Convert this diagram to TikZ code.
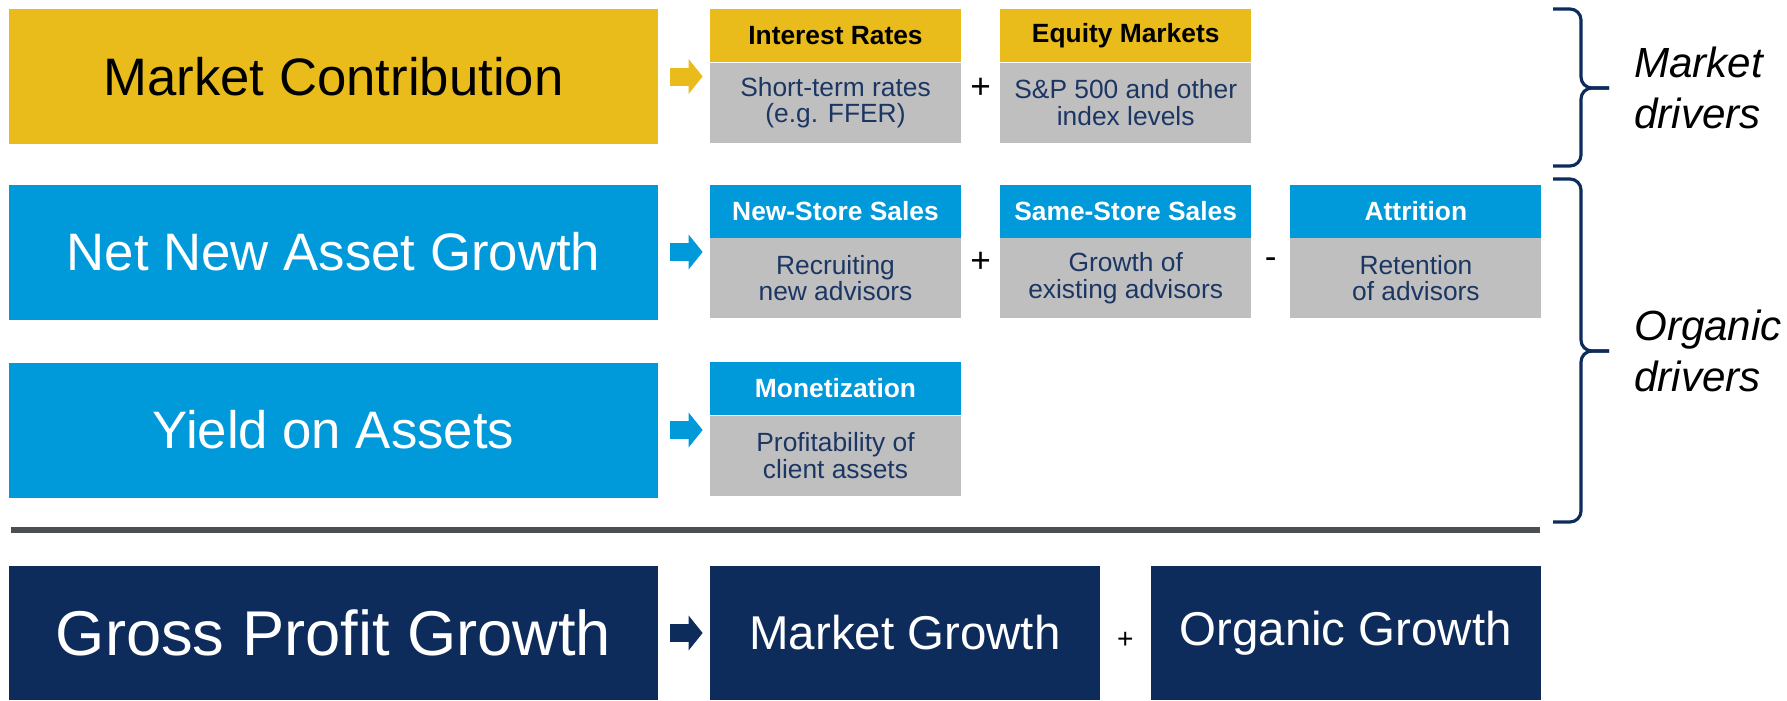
\documentclass[tikz,border=0pt]{standalone}
\usepackage{fontspec}
\setmainfont{Liberation Sans}
\usepackage{tikz}
\usetikzlibrary{positioning}
\usetikzlibrary{calc}
\usetikzlibrary{arrows.meta}
\definecolor{gold}{HTML}{E9BC1C}
\definecolor{sky}{HTML}{0099DA}
\definecolor{navy}{HTML}{0D2C5C}
\definecolor{boxgray}{HTML}{BFBFBF}
\definecolor{inknavy}{HTML}{1C3664}
\definecolor{rulegray}{HTML}{4B4E52}
\tikzset{
    bigbox/.style={fill=#1,minimum width=12.98cm,minimum height=2.7cm,inner sep=0pt,font=\fontsize{30}{36}\selectfont},
    head/.style={fill=#1,minimum width=5.02cm,minimum height=1.06cm,inner sep=0pt,font=\fontsize{15}{16}\bfseries},
    body/.style={fill=boxgray,text=inknavy,minimum width=5.02cm,minimum height=1.6cm,inner sep=0pt,align=center,font=\fontsize{15}{15}\selectfont},
    sumbox/.style={fill=navy,text=white,minimum width=7.8cm,minimum height=2.68cm,inner sep=0pt,font=\fontsize{27}{32}\selectfont},
    blockarrow/.style={draw=#1,line width=0.36cm,-{Triangle[length=0.28cm,width=0.68cm]},shorten <=0.24cm,shorten >=0.14cm},
    op/.style={font=\fontsize{20}{24}\selectfont},
    drvbrace/.style={draw=navy,line width=1.8pt,rounded corners=0.22cm},
    drvtext/.style={anchor=west,align=left,font=\fontsize{24}{29}\itshape}
}
\begin{document}
\begin{tikzpicture}
\useasboundingbox (0,0) rectangle (35.74,-14);
% market row
\node[bigbox=gold] (mc) at (6.67,-1.53) {Market Contribution};
\node[head=gold] (ir) at (16.71,-0.71) {Interest Rates};
\node[body,below=0pt of ir] (irb) {Short-term rates\\(e.g. FFER)};
\node[head=gold,right=0.77cm of ir] (em) {Equity Markets};
\node[body,below=0pt of em] (emb) {S\&P 500 and other\\index levels};
% organic rows
\node[bigbox=sky,text=white] (nnag) at (6.67,-5.04) {Net New Asset Growth};
\node[head=sky,text=white] (nss) at (16.71,-4.22) {New-Store Sales};
\node[body,below=0pt of nss] (nssb) {Recruiting\\new advisors};
\node[head=sky,text=white,right=0.77cm of nss] (sss) {Same-Store Sales};
\node[body,below=0pt of sss] (sssb) {Growth of\\existing advisors};
\node[head=sky,text=white,right=0.77cm of sss] (att) {Attrition};
\node[body,below=0pt of att] (attb) {Retention\\of advisors};
\node[bigbox=sky,text=white] (yoa) at (6.67,-8.60) {Yield on Assets};
\node[head=sky,text=white] (mon) at (16.71,-7.77) {Monetization};
\node[body,below=0pt of mon] (monb) {Profitability of\\client assets};
% rule
\coordinate (rl) at (0.22,-10.6); \coordinate (rr) at (30.8,-10.6);
\draw[rulegray,line width=3.4pt] (rl) -- (rr);
% total row
\node[bigbox=navy,text=white,minimum height=2.68cm,font=\fontsize{36}{43}\selectfont] (gpg) at (6.67,-12.66) {Gross Profit Growth};
\node[sumbox] (mg) at (18.10,-12.66) {Market Growth};
\node[sumbox,right=1.0cm of mg] (og) {Organic Growth};
% arrows
\draw[blockarrow=gold] (mc.east) -- (mc.east -| irb.west);
\draw[blockarrow=sky] (nnag.east) -- (nnag.east -| nssb.west);
\draw[blockarrow=sky] (yoa.east) -- (yoa.east -| monb.west);
\draw[blockarrow=navy] (gpg.east) -- (gpg.east -| mg.west);
% operators
\node[op] (p1) at ($(irb.east)!0.5!(emb.west)$) [yshift=0.28cm] {+};
\node[op] (p2) at ($(nssb.east)!0.5!(sssb.west)$) [yshift=0.31cm] {+};
\node[op] (m1) at ($(sssb.east)!0.5!(attb.west)$) [yshift=0.31cm] {-};
\node[op,font=\fontsize{16}{19}\selectfont] (p3) at ($(mg.east)!0.5!(og.west)$) [yshift=-0.14cm] {+};
% braces
\coordinate (mt) at (31.06,-0.18); \coordinate (mbt) at (31.06,-3.32); \coordinate (mtip) at (32.18,-1.76);
\draw[drvbrace] (mt) -- (31.62,-0.18) -- (31.62,-1.76) -- (mtip);
\draw[drvbrace] (mbt) -- (31.62,-3.32) -- (31.62,-1.76) -- (mtip);
\coordinate (ot) at (31.06,-3.58); \coordinate (obt) at (31.06,-10.44); \coordinate (otip) at (32.18,-7.02);
\draw[drvbrace] (ot) -- (31.62,-3.58) -- (31.62,-7.02) -- (otip);
\draw[drvbrace] (obt) -- (31.62,-10.44) -- (31.62,-7.02) -- (otip);
\node[drvtext] (md) at (32.56,-1.76) {Market\\drivers};
\node[drvtext] (od) at (32.56,-7.02) {Organic\\drivers};
\end{tikzpicture}
\end{document}
